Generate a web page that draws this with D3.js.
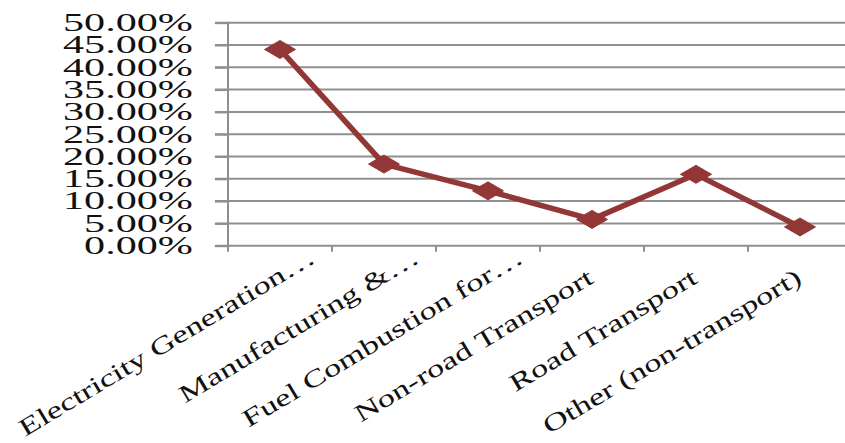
<!DOCTYPE html>
<html>
<head>
<meta charset="utf-8">
<script src="https://cdn.jsdelivr.net/npm/d3@7"></script>
<style>
  html, body { margin: 0; padding: 0; background: #fff; }
  svg { display: block; }
  text { font-family: "Liberation Serif", "Times New Roman", serif; fill: #111; }
</style>
</head>
<body>
<svg id="chart" width="845" height="443"></svg>
<script>
// Share of emissions by source sector
const categories = [
  "Electricity Generation…",
  "Manufacturing &…",
  "Fuel Combustion for…",
  "Non-road Transport",
  "Road Transport",
  "Other (non-transport)"
];
const shares = [0.440, 0.183, 0.123, 0.059, 0.160, 0.042];
const yTicks = [0, 0.05, 0.10, 0.15, 0.20, 0.25, 0.30, 0.35, 0.40, 0.45, 0.50];

const sx = 1.72;                 // plot area and y labels are drawn wide
const axisPx = 228;              // y-axis position on the page
const bandPx = 104;
const plotTop = 22.7, plotBottom = 245.7;
const tickLen = 7.6;
const fontSize = 24.5;
const lineColor = "#923636";
const gridColor = "#8f8f8f";

const svg = d3.select("#chart");
const g = svg.append("g").attr("transform", `scale(${sx},1)`);

// category positions in page pixels
const x = d3.scaleBand()
  .domain(categories)
  .range([axisPx, axisPx + bandPx * categories.length])
  .padding(0);
// same positions inside the stretched group
const xs = v => v / sx;

const y = d3.scaleLinear()
  .domain([0, 0.5])
  .range([plotBottom, plotTop]);

const axisX = xs(axisPx);

// horizontal gridlines (they also form the y tick marks left of the axis)
g.append("g")
  .selectAll("line")
  .data(yTicks)
  .join("line")
  .attr("x1", axisX - tickLen)
  .attr("x2", xs(x.range()[1]))
  .attr("y1", d => y(d))
  .attr("y2", d => y(d))
  .attr("stroke", gridColor)
  .attr("stroke-width", 2)
  .attr("vector-effect", "non-scaling-stroke");

// y axis with percentage labels
const yAxis = g.append("g")
  .attr("transform", `translate(${axisX},0)`)
  .call(d3.axisLeft(y)
    .tickValues(yTicks)
    .tickFormat(d3.format(".2%"))
    .tickSize(tickLen)
    .tickPadding(12.8));
yAxis.select(".domain").remove();
yAxis.selectAll(".tick line")
  .attr("stroke", gridColor)
  .attr("stroke-width", 2)
  .attr("vector-effect", "non-scaling-stroke");
yAxis.selectAll(".tick text")
  .attr("font-size", fontSize)
  .attr("fill", "#111");

// vertical axis line, running a little below the category axis
g.append("line")
  .attr("x1", axisX).attr("x2", axisX)
  .attr("y1", y(0.5)).attr("y2", plotBottom + 6)
  .attr("stroke", gridColor)
  .attr("stroke-width", 2)
  .attr("vector-effect", "non-scaling-stroke");

// category tick marks at band boundaries
g.append("g")
  .selectAll("line")
  .data(categories)
  .join("line")
  .attr("x1", d => xs(x(d) + x.bandwidth()))
  .attr("x2", d => xs(x(d) + x.bandwidth()))
  .attr("y1", plotBottom).attr("y2", plotBottom + 6)
  .attr("stroke", gridColor)
  .attr("stroke-width", 2)
  .attr("vector-effect", "non-scaling-stroke");

// slanted category labels (truncated ones run further along their baseline)
const labelY = 282;
svg.append("g")
  .selectAll("text")
  .data(categories)
  .join("text")
  .attr("transform", d => `translate(${x(d) + x.bandwidth() / 2 + 3},${labelY}) rotate(-31) scale(1.41,1)`)
  .attr("text-anchor", "end")
  .attr("dx", d => d.endsWith("…") ? 28 : 0)
  .attr("font-size", fontSize)
  .text(d => d);

// series line
const cx = (d, i) => xs(x(categories[i]) + x.bandwidth() / 2);
const line = d3.line()
  .x((d, i) => cx(d, i))
  .y(d => y(d));

g.append("path")
  .datum(shares)
  .attr("d", line)
  .attr("fill", "none")
  .attr("stroke", lineColor)
  .attr("stroke-width", 5.5)
  .attr("stroke-linejoin", "round")
  .attr("vector-effect", "non-scaling-stroke");

// diamond markers
g.append("g")
  .selectAll("path")
  .data(shares)
  .join("path")
  .attr("transform", (d, i) => `translate(${cx(d, i)},${y(d)})`)
  .attr("d", "M0,-9L9,0L0,9L-9,0Z")
  .attr("fill", lineColor)
  .attr("stroke", lineColor)
  .attr("stroke-width", 1)
  .attr("vector-effect", "non-scaling-stroke");
</script>
</body>
</html>
